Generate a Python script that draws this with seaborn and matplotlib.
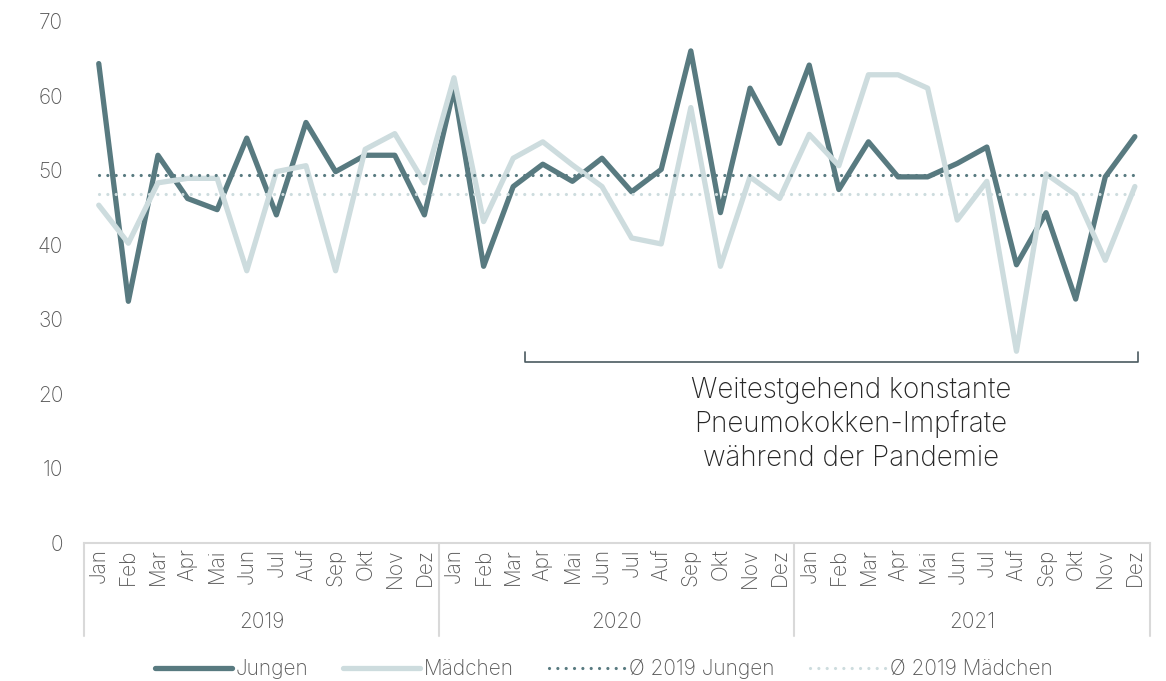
import numpy as np
import matplotlib.pyplot as plt
import matplotlib.transforms as mtransforms
import seaborn as sns

# Monate (Originalbeschriftung), Jahre und Werte
monate = ["Jan", "Feb", "Mar", "Apr", "Mai", "Jun", "Jul", "Auf", "Sep", "Okt", "Nov", "Dez"]
jahre = ["2019", "2020", "2021"]

jungen = [64.3, 32.4, 52.0, 46.2, 44.7, 54.3, 44.0, 56.4, 49.8, 52.0, 52.0, 44.0,
          61.0, 37.1, 47.8, 50.8, 48.5, 51.6, 47.1, 50.1, 66.0, 44.3, 61.0, 53.6,
          64.1, 47.4, 53.8, 49.1, 49.1, 50.9, 53.1, 37.3, 44.3, 32.7, 49.1, 54.5]
maedchen = [45.3, 40.2, 48.3, 48.9, 48.9, 36.5, 49.8, 50.6, 36.5, 52.8, 54.9, 48.3,
            62.4, 43.1, 51.6, 53.8, 50.7, 47.8, 40.9, 40.1, 58.4, 37.1, 49.1, 46.2,
            54.8, 50.6, 62.8, 62.8, 61.0, 43.3, 48.5, 25.7, 49.5, 46.7, 37.9, 47.8]

dunkel = "#587a80"
hell = "#cddcde"
grau = "#595959"
linie = "#d9d9d9"

sns.set_theme(style="white")
plt.rcParams["font.family"] = ["Inter", "DejaVu Sans"]
plt.rcParams["font.weight"] = "light"

n = len(jungen)
pos = np.arange(n)
schnitt_j = np.mean(jungen[:12])
schnitt_m = np.mean(maedchen[:12])

fig, ax = plt.subplots(figsize=(11.66, 6.81), dpi=100)
fig.subplots_adjust(left=0.072, right=0.986, bottom=0.203, top=0.969)

sns.lineplot(x=pos, y=jungen, color=dunkel, lw=3.8, label="Jungen", ax=ax,
             solid_joinstyle="round", solid_capstyle="round")
sns.lineplot(x=pos, y=maedchen, color=hell, lw=3.8, label="Mädchen", ax=ax,
             solid_joinstyle="round", solid_capstyle="round")
punkte = (0, (0.01, 2.6))
ax.plot([0, n - 1], [schnitt_j, schnitt_j], color=dunkel, lw=2.3, ls=punkte,
        dash_capstyle="round", label="Ø 2019 Jungen")
ax.plot([0, n - 1], [schnitt_m, schnitt_m], color=hell, lw=2.3, ls=punkte,
        dash_capstyle="round", label="Ø 2019 Mädchen")

ax.set_xlim(-0.5, n - 0.5)
ax.set_ylim(0, 70)
ax.set_yticks(range(0, 71, 10))
ax.tick_params(axis="y", length=0, pad=15, labelsize=15, labelcolor=grau)
ax.set_xticks(pos)
ax.set_xticklabels(monate * len(jahre), rotation=90)
ax.tick_params(axis="x", length=0, pad=4, labelsize=15, labelcolor=grau)
ax.set_xlabel("")
ax.set_ylabel("")
for s in ["left", "top", "right"]:
    ax.spines[s].set_visible(False)
ax.spines["bottom"].set_color(linie)
ax.spines["bottom"].set_linewidth(1.5)

# zweite Achsenebene mit Jahren
trans = mtransforms.blended_transform_factory(ax.transData, ax.transAxes)
for b in [-0.5, 11.5, 23.5, 35.5]:
    ax.plot([b, b], [0, -0.178], transform=trans, color=linie, lw=1.5, clip_on=False)
for i, j in enumerate(jahre):
    ax.text(12 * i + 5.5, -0.151, j, transform=trans, ha="center", va="center",
            fontsize=15, color=grau)

# Klammer + Hinweis
ax.plot([14.4, 14.4, 35.1, 35.1], [25.6, 24.3, 24.3, 25.6], color="#4a5a60", lw=1.2)
ax.text(25.4, 15.9, "Weitestgehend konstante\nPneumokokken-Impfrate\nwährend der Pandemie",
        ha="center", va="center", fontsize=20, color="#262626", linespacing=1.3)

handles, labels = ax.get_legend_handles_labels()
ax.legend_.remove()
leg = fig.legend(handles, labels, loc="center", bbox_to_anchor=(0.518, 0.017), ncol=4,
                 frameon=False, fontsize=15, handlelength=3.7, handletextpad=0.15,
                 columnspacing=1.7)
for t in leg.get_texts():
    t.set_color(grau)

fig.savefig("out.png", dpi=100)
